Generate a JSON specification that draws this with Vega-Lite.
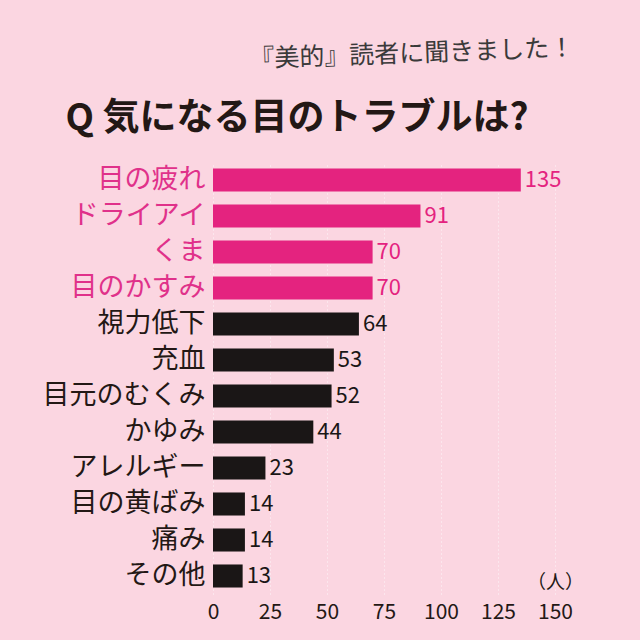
{
  "$schema": "https://vega.github.io/schema/vega-lite/v6.json",
  "autosize": "none",
  "width": 342,
  "height": 432,
  "padding": {"left": 213, "top": 162, "right": 85, "bottom": 46},
  "background": "#fbd6e1",
  "title": {
    "text": "『美的』読者に聞きました！",
    "anchor": "start",
    "frame": "group",
    "dx": 36,
    "offset": 14,
    "angle": -2,
    "font": "Noto Sans CJK JP",
    "fontSize": 25,
    "fontWeight": "normal",
    "color": "#3a3a3a"
  },
  "config": {
    "view": {"stroke": null},
    "font": "Noto Sans CJK JP"
  },
  "data": {
    "values": [
      {"item": "目の疲れ", "count": 135, "highlight": "yes"},
      {"item": "ドライアイ", "count": 91, "highlight": "yes"},
      {"item": "くま", "count": 70, "highlight": "yes"},
      {"item": "目のかすみ", "count": 70, "highlight": "yes"},
      {"item": "視力低下", "count": 64, "highlight": "no"},
      {"item": "充血", "count": 53, "highlight": "no"},
      {"item": "目元のむくみ", "count": 52, "highlight": "no"},
      {"item": "かゆみ", "count": 44, "highlight": "no"},
      {"item": "アレルギー", "count": 23, "highlight": "no"},
      {"item": "目の黄ばみ", "count": 14, "highlight": "no"},
      {"item": "痛み", "count": 14, "highlight": "no"},
      {"item": "その他", "count": 13, "highlight": "no"}
    ]
  },
  "encoding": {
    "y": {
      "field": "item",
      "type": "nominal",
      "sort": null,
      "scale": {"paddingInner": 0.36, "paddingOuter": 0.18},
      "axis": {
        "title": "Q  気になる目のトラブルは?",
        "titleX": -148,
        "titleY": -44,
        "titleAngle": 0,
        "titleAlign": "left",
        "titleBaseline": "middle",
        "titleFontSize": 37,
        "titleFontWeight": "bold",
        "titleColor": "#231815",
        "titleFont": "Noto Sans CJK JP",
        "domain": false,
        "ticks": false,
        "labelPadding": 8,
        "labelFontSize": 27,
        "labelFont": "Noto Sans CJK JP",
        "labelColor": {
          "condition": {"test": "indexof(['目の疲れ','ドライアイ','くま','目のかすみ'], datum.value) >= 0", "value": "#e0318a"},
          "value": "#231815"
        }
      }
    },
    "x": {
      "field": "count",
      "type": "quantitative",
      "scale": {"domain": [0, 150], "nice": false},
      "axis": {
        "values": [0, 25, 50, 75, 100, 125, 150],
        "title": "（人）",
        "titleX": 342,
        "titleY": -12,
        "titleAlign": "center",
        "titleBaseline": "middle",
        "titleFontSize": 19,
        "titleFontWeight": "normal",
        "titleColor": "#231815",
        "domain": false,
        "ticks": false,
        "labelPadding": 7,
        "labelFontSize": 21,
        "labelColor": "#231815",
        "labelFlush": false,
        "grid": true,
        "gridColor": "#ffffff",
        "gridOpacity": 0.8,
        "gridDash": [1, 3]
      }
    }
  },
  "layer": [
    {
      "mark": {"type": "bar"},
      "encoding": {
        "color": {
          "field": "highlight",
          "type": "nominal",
          "scale": {"domain": ["yes", "no"], "range": ["#e4237f", "#1a1616"]},
          "legend": null
        }
      }
    },
    {
      "mark": {"type": "text", "align": "left", "baseline": "middle", "dx": 4, "fontSize": 22},
      "encoding": {
        "text": {"field": "count", "type": "quantitative"},
        "color": {
          "field": "highlight",
          "type": "nominal",
          "scale": {"domain": ["yes", "no"], "range": ["#e4237f", "#1a1616"]},
          "legend": null
        }
      }
    }
  ]
}
